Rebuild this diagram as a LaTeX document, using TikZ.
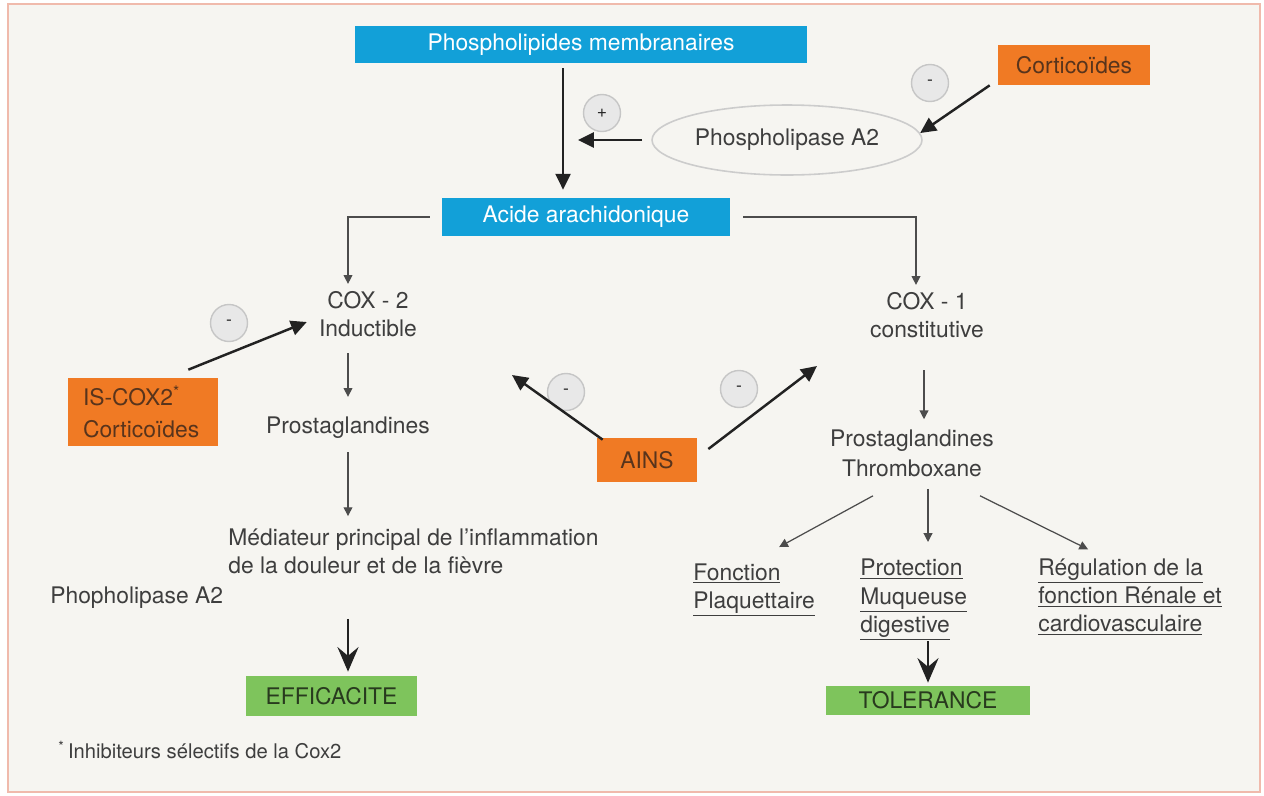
\documentclass[tikz,border=0pt]{standalone}
\usepackage{fontspec}
\setmainfont{TeX Gyre Heros}
\usetikzlibrary{arrows.meta, positioning, calc, shapes.geometric}
\definecolor{myBlue}{RGB}{18,160,216}
\definecolor{myOrange}{RGB}{240,122,36}
\definecolor{myGreen}{RGB}{126,196,92}
\definecolor{myBack}{RGB}{246,245,241}
\definecolor{myBorder}{RGB}{240,186,172}
\definecolor{myText}{RGB}{62,62,62}
\definecolor{myBrown}{RGB}{88,52,28}
\definecolor{myLeaf}{RGB}{40,58,30}
\definecolor{myDark}{RGB}{34,34,34}

\begin{document}
\begin{tikzpicture}[x=0.02cm, y=-0.02cm,
	every node/.style={font=\fontsize{13}{16}\selectfont, text=myText, inner sep=0pt},
	bluebox/.style={fill=myBlue, text=white},
	orangebox/.style={fill=myOrange, text=myBrown},
	greenbox/.style={fill=myGreen, text=myLeaf},
	sign/.style={circle, draw=gray!45, fill=gray!18, line width=0.8pt, minimum size=0.74cm, text=gray!30!black, font=\fontsize{10}{10}\selectfont},
	bigarrow/.style={line width=1.4pt, draw=myDark, -{Triangle[length=9pt,width=8.5pt]}},
	thinarrow/.style={line width=0.7pt, draw=gray!60!black, -{Triangle[length=5pt,width=5pt]}},
	hugearrow/.style={line width=1.4pt, draw=myDark, -{Stealth[length=14pt,width=12pt,inset=5pt]}}]
				% frame
				\useasboundingbox (0,0) rectangle (1264,795);
				\fill[white] (0,0) rectangle (1264,795);
				\draw[myBorder, line width=1.2pt, fill=myBack] (8,4) rectangle (1260,792);
				% top of the pathway
				\node[bluebox, minimum width=9.04cm, minimum height=0.74cm] (phos) at (581,44.5) {Phospholipides membranaires};
				\node[bluebox, minimum width=5.76cm, minimum height=0.76cm] (acide) at (586,217) {Acide arachidonique};
				\node[ellipse, draw=gray!40, line width=0.9pt, minimum width=5.4cm, minimum height=1.4cm] (pla) at (787,140) {Phospholipase A2};
				\node[orangebox, minimum width=3.04cm, minimum height=0.8cm] (cort) at (1074,65) {Corticoïdes};
				% COX-2 side
				\node[align=center] (cox2) at (368,314) {COX - 2\\Inductible};
				\node[orangebox, text width=2.4cm, align=left, inner xsep=0.3cm, minimum height=1.36cm, font=\fontsize{13}{18.5}\selectfont] (iscox) at (143,412) {IS-COX2\textsuperscript{*}\\Corticoïdes};
				\node (pg2) at (348,428) {Prostaglandines};
				\node[align=left, anchor=west] (med) at (228,551) {Médiateur principal de l’inflammation\\de la douleur et de la fièvre};
				\node[anchor=west] (phopho) at (50,598) {Phopholipase A2};
				\node[greenbox, minimum width=3.42cm, minimum height=0.8cm] (eff) at (331.5,696) {EFFICACITE};
				\node[anchor=west, font=\fontsize{11.5}{14}\selectfont] (note) at (58,750) {\textsuperscript{*}\,Inhibiteurs sélectifs de la Cox2};
				% COX-1 side
				\node[orangebox, minimum width=2cm, minimum height=0.88cm] (ains) at (647,460) {AINS};
				\node[align=center] (cox1) at (927,315) {COX - 1\\constitutive};
				\node[align=center, font=\fontsize{13}{17}\selectfont] (pg1) at (912,453) {Prostaglandines\\Thromboxane};
				\node[align=left, anchor=west] (plaq) at (693,590) {\underline{Fonction}\\\underline{Plaquettaire}};
				\node[align=left, anchor=west] (muq) at (860,600) {\underline{Protection}\\\underline{Muqueuse}\\\underline{digestive}};
				\node[align=left, anchor=west] (renal) at (1038,597) {\underline{Régulation de la}\\\underline{fonction Rénale et}\\\underline{cardiovasculaire}};
				\node[greenbox, minimum width=4.08cm, minimum height=0.58cm] (tol) at (928,700.5) {TOLERANCE};
				% plus and minus signs
				\foreach \name/\x/\y/\s in {plus/602/113/+, mcort/930/83/-, miscox/229/323/-, mainsl/566/392/-, mainsr/739/389/-} {
					\node[sign] (\name) at (\x,\y) {\s};
				}
				\coordinate (ainsL) at (512,375);
				\coordinate (ainsR) at (817,366);
				% connectors
				\draw[bigarrow, shorten <=0.1cm, shorten >=0.16cm] ([xshift=-0.36cm]phos.south) -- ([xshift=-0.36cm]phos.south |- acide.north);
				\draw[bigarrow, shorten <=0.18cm, shorten >=0.3cm] (pla.west) -- ([xshift=-0.36cm]phos.south |- pla.west);
				\draw[bigarrow] ([xshift=-0.16cm]cort.south west) -- (pla.3);
				\draw[thinarrow, shorten <=0.24cm, shorten >=0.14cm] (acide.west) -| ([xshift=-0.4cm]cox2.north);
				\draw[thinarrow, shorten <=0.26cm, shorten >=0.14cm] (acide.east) -| ([xshift=-0.22cm]cox1.north);
				\draw[thinarrow, shorten <=0.32cm, shorten >=0.4cm] (cox2.south -| pg2) -- (pg2.north);
				\draw[thinarrow, shorten <=0.26cm, shorten >=0.24cm] (pg2.south) -- (pg2.south |- med.north);
				\draw[hugearrow, shorten <=0.9cm, shorten >=0.08cm] (med.south -| pg2) -- (eff.north -| pg2);
				\draw[bigarrow] ([shift={(-30,-8)}]iscox.north east) -- ([shift={(-12,8)}]cox2.west);
				\draw[bigarrow] ([shift={(6,2)}]ains.north west) -- (ainsL);
				\draw[bigarrow] ([shift={(11,-11)}]ains.east) -- (ainsR);
				\draw[thinarrow, shorten <=0.64cm, shorten >=0.2cm] ([xshift=-0.06cm]cox1.south) -- ([xshift=-0.06cm]cox1.south |- pg1.north);
				\draw[thinarrow] ([shift={(-39,19)}]pg1.south) -- ([shift={(25,-16)}]plaq.north);
				\draw[thinarrow, shorten <=0.24cm, shorten >=0.34cm] (pg1.south -| tol.north) -- (muq.north -| tol.north);
				\draw[thinarrow] ([shift={(68,19)}]pg1.south) -- ([shift={(-42,-9)}]renal.north);
				\draw[hugearrow, shorten >=0.06cm] (muq.south -| tol.north) -- (tol.north);
			\end{tikzpicture}
\end{document}
